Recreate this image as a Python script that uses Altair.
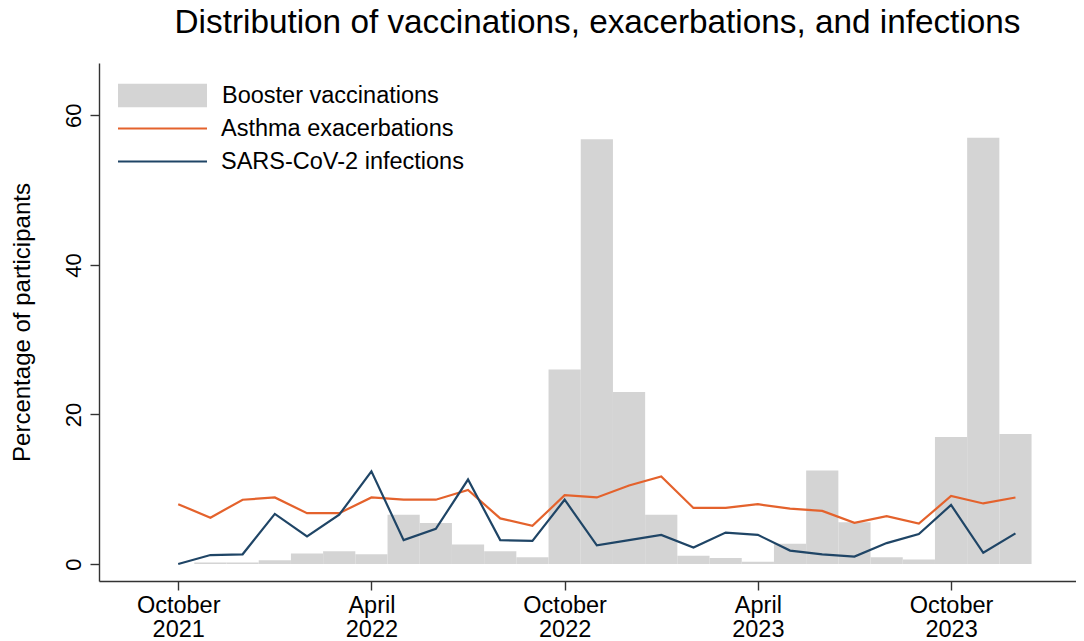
import altair as alt
import pandas as pd

FONT = "Liberation Sans"

# Monthly data, October 2021 - December 2023
months = [
    "2021-10", "2021-11", "2021-12",
    "2022-01", "2022-02", "2022-03", "2022-04", "2022-05", "2022-06",
    "2022-07", "2022-08", "2022-09", "2022-10", "2022-11", "2022-12",
    "2023-01", "2023-02", "2023-03", "2023-04", "2023-05", "2023-06",
    "2023-07", "2023-08", "2023-09", "2023-10", "2023-11", "2023-12",
]
booster = [0.0, 0.2, 0.2, 0.5, 1.4, 1.7, 1.3, 6.6, 5.5, 2.6, 1.7, 0.9, 26.0, 56.8,
           23.0, 6.6, 1.1, 0.8, 0.3, 2.7, 12.5, 5.6, 0.9, 0.6, 17.0, 57.0, 17.4]
asthma = [8.0, 6.2, 8.6, 8.9, 6.8, 6.8, 8.9, 8.6, 8.6, 9.9, 6.1, 5.1, 9.2, 8.9,
          10.5, 11.7, 7.5, 7.5, 8.0, 7.4, 7.1, 5.5, 6.4, 5.4, 9.1, 8.1, 8.9]
infections = [0.0, 1.2, 1.3, 6.7, 3.7, 6.6, 12.4, 3.2, 4.7, 11.3, 3.2, 3.1, 8.6, 2.5,
              3.2, 3.9, 2.2, 4.2, 3.9, 1.8, 1.3, 1.0, 2.8, 4.0, 7.9, 1.5, 4.1]

series_names = ["Booster vaccinations", "Asthma exacerbations", "SARS-CoV-2 infections"]
series_colors = ["#d4d4d4", "#e4622c", "#1f4566"]

tick_index = [0, 6, 12, 18, 24]
tick_labels = [["October", "2021"], ["April", "2022"], ["October", "2022"],
               ["April", "2023"], ["October", "2023"]]
y_ticks = [0, 20, 40, 60]

df = pd.DataFrame({
    "month": months,
    "idx": list(range(len(months))),
    "booster": booster,
    "asthma": asthma,
    "infections": infections,
})

label_map = "{" + ",".join(
    f"'{i}': {tick_labels[k]!r}" for k, i in enumerate(tick_index)
) + "}"
label_expr = f"{label_map}[''+datum.value]"

xscale = alt.Scale(domain=[-2.46, 27.88], nice=False, zero=False)
yscale = alt.Scale(domain=[-2.27, 67.0], nice=False, zero=False)

xaxis = alt.Axis(
    title=None, values=tick_index, labelExpr=label_expr, grid=False,
    tickSize=9, tickColor="#333333", tickWidth=1.4,
    domainColor="#333333", domainWidth=1.4,
    labelFont=FONT, labelFontSize=23.5, labelColor="#000000",
    labelPadding=3, labelLineHeight=24, labelBaseline="top", labelAlign="center",
)
yaxis = alt.Axis(
    title="Percentage of participants", values=y_ticks, grid=False,
    tickSize=9, tickColor="#333333", tickWidth=1.4,
    domainColor="#333333", domainWidth=1.4,
    labelFont=FONT, labelFontSize=22, labelColor="#000000",
    labelAngle=270, labelAlign="center", labelBaseline="alphabetic", labelPadding=10,
    titleFont=FONT, titleFontSize=24, titleFontWeight="normal", titleColor="#000000",
    titleAngle=270, titleAlign="center", titleBaseline="middle",
    titleX=-77, titleY=259,
)

base = alt.Chart(df)

bars = base.transform_calculate(
    x0="datum.idx - 0.5", x1="datum.idx + 0.5", series=f"'{series_names[0]}'"
).mark_rect().encode(
    x=alt.X("x0:Q", scale=xscale, axis=xaxis),
    x2="x1:Q",
    y=alt.Y("booster:Q", scale=yscale, axis=yaxis),
    y2=alt.datum(0),
    fill=alt.Fill(
        "series:N",
        scale=alt.Scale(domain=[series_names[0]], range=[series_colors[0]]),
        legend=alt.Legend(
            orient="none", legendX=19, legendY=-12, title=None, padding=0,
            symbolType="M-1,-0.262H1V0.262H-1Z", symbolSize=7921,
            symbolStrokeWidth=0, symbolOpacity=1,
            labelFont=FONT, labelFontSize=23.5, labelColor="#000000",
            labelOffset=15, labelLimit=600,
        ),
    ),
)


def line_layer(field, k, legend_y):
    return base.transform_calculate(series=f"'{series_names[k]}'").mark_line(
        strokeWidth=2.2
    ).encode(
        x=alt.X("idx:Q", scale=xscale, axis=xaxis),
        y=alt.Y(f"{field}:Q", scale=yscale, axis=yaxis),
        stroke=alt.Stroke(
            "series:N",
            scale=alt.Scale(domain=[series_names[k]], range=[series_colors[k]]),
            legend=alt.Legend(
                orient="none", legendX=18, legendY=legend_y, title=None, padding=0,
                symbolType="stroke", symbolSize=7921, symbolStrokeWidth=2,
                labelFont=FONT, labelFontSize=23.5, labelColor="#000000",
                labelOffset=13, labelLimit=600,
            ),
        ),
    )


asthma_line = line_layer("asthma", 1, 20.0)
infection_line = line_layer("infections", 2, 53.0)

chart = alt.layer(bars, asthma_line, infection_line).resolve_scale(
    stroke="independent"
).properties(
    width=977,
    height=518,
    title=alt.TitleParams(
        "Distribution of vaccinations, exacerbations, and infections",
        font=FONT, fontSize=33.3, fontWeight="normal", color="#000000",
        anchor="middle", frame="group", dx=10, offset=11,
    ),
    autosize=alt.AutoSizeParams(type="none"),
    padding={"left": 91, "top": 55, "right": 0, "bottom": 75},
    background="#ffffff",
).configure_view(stroke=None)

chart.save("out.html", embed_options={"renderer": "svg", "actions": False})
